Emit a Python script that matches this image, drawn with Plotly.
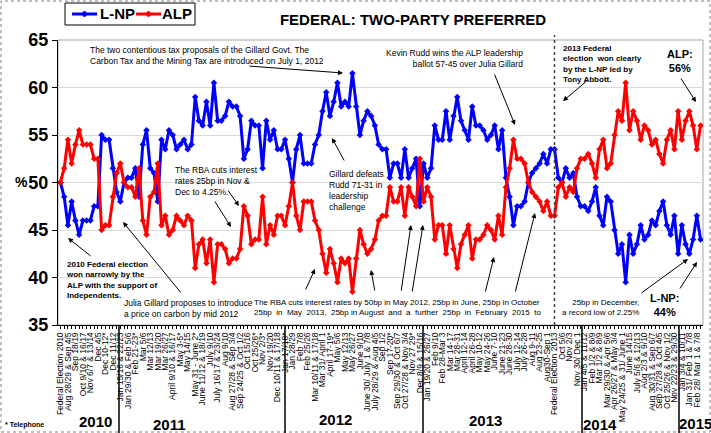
import plotly.graph_objects as go

# Roy Morgan two-party preferred, one value per poll (Aug 2010 - Mar 2015)
lnp = [
    # 2010
    50, 48.5, 45.5, 48, 46, 44.5, 46, 46, 46, 47.5, 47.5, 55, 54.5, 54.5, 51.5, 49,
    # 2011
    48, 50, 50.5, 50.5, 51.5, 48.5, 54, 55.5, 51.5, 51,
    48, 54.5, 53.5, 55.5, 55, 53.5, 54, 54.5, 53.5, 54,
    59, 56.5, 56, 58.5, 56, 60.5, 56.5, 56.5, 57, 58.5,
    58, 58, 57, 52.5, 53.5, 56.5, 56, 56, 51.5, 56.5,
    54.5, 55.5, 53.5, 53.5,
    # 2012
    54.5, 52.5, 50, 53.5, 55, 52, 52, 52, 54, 55,
    57.5, 59.5, 57, 58.5, 60.5, 58, 58.5, 58, 61.5, 58,
    55, 56.5, 57.5, 57, 56, 54, 53.5, 53.5, 50.5, 52,
    52, 50.5, 53.5, 50.5, 51.5, 52.5, 47.5, 52,
    # 2013
    50.5, 51.5, 56, 54.5, 54.5, 57.5, 54.5, 57, 59, 56.5,
    55.5, 54.5, 58, 56, 56, 55.5, 54.5, 55, 56, 53.5,
    55.5, 50.5, 48.5, 45.5, 47.5, 47.5, 48, 50, 51, 51.5,
    52, 53, 52, 53.5, 53.5, 50.5, 50, 51.5, 50.5, 51,
    48.5, 47.5,
    # 2014
    47.5, 47, 48, 49.5, 46.5, 45.5, 48.5, 48, 45, 42.5,
    43.5, 39.5, 44.5, 42.5, 43.5, 45.5, 44, 44.5, 46, 45.5,
    47, 48, 45.5, 44.5, 46.5, 42.5,
    # 2015
    45.5, 43.5, 42.5, 44, 46.5, 44,
]

alp = [
    # 2010
    50, 51.5, 54.5, 52, 54, 55.5, 54, 54, 54, 52.5, 52.5, 45, 45.5, 45.5, 48.5, 51,
    # 2011
    52, 50, 49.5, 49.5, 48.5, 51.5, 46, 44.5, 48.5, 49,
    52, 45.5, 46.5, 44.5, 45, 46.5, 46, 45.5, 46.5, 46,
    41, 43.5, 44, 41.5, 44, 39.5, 43.5, 43.5, 43, 41.5,
    42, 42, 43, 47.5, 46.5, 43.5, 44, 44, 48.5, 43.5,
    45.5, 44.5, 46.5, 46.5,
    # 2012
    45.5, 47.5, 50, 46.5, 45, 48, 48, 48, 46, 45,
    42.5, 40.5, 43, 41.5, 39.5, 42, 41.5, 42, 38.5, 42,
    45, 43.5, 42.5, 43, 44, 46, 46.5, 46.5, 49.5, 48,
    48, 49.5, 46.5, 49.5, 48.5, 47.5, 52.5, 48,
    # 2013
    49.5, 48.5, 44, 45.5, 45.5, 42.5, 45.5, 43, 41, 43.5,
    44.5, 45.5, 42, 44, 44, 44.5, 45.5, 45, 44, 46.5,
    44.5, 49.5, 51.5, 54.5, 52.5, 52.5, 52, 50, 49, 48.5,
    48, 47, 48, 46.5, 46.5, 49.5, 50, 48.5, 49.5, 49,
    51.5, 52.5,
    # 2014
    52.5, 53, 52, 50.5, 53.5, 54.5, 51.5, 52, 55, 57.5,
    56.5, 60.5, 55.5, 57.5, 56.5, 54.5, 56, 55.5, 54, 54.5,
    53, 52, 54.5, 55.5, 53.5, 57.5,
    # 2015
    54.5, 56.5, 57.5, 56, 53.5, 56,
]

# every second poll carries a label on the axis
poll_labels = [
    "Federal Election 2010", "Aug 28/29 & Sep 4/5", "Sep 18/19", "Oct 9/10 & 16/17",
    "Nov 6/7 & 13/14", "Dec 4/5", "Dec 10-12*", "Dec 11/12",
    "Jan 15/16 & 22/23", "Jan 29/30 & Feb 5/6", "Feb 21-23*", "Mar 5/6", "Mar 12/13",
    "Mar 19/20", "Mar 26/27", "April 9/10 & 16/17", "May 3-5*", "May 14/15",
    "May 31 - June 2*", "June 11/12 & 18/19", "July 9/10", "July 16/17 & 23/24",
    "Aug 9/10", "Aug 27/28 & Sep 3/4", "Sep 24/25 & Oct 1/2", "Oct 15/16",
    "Oct 25/26*", "Nov 2/3*", "Nov 19/20", "Dec 10/11 & 17/18",
    "Jan 17/18*", "Jan 28/29", "Feb 7/8", "Feb 25/26", "Mar 10/11 & 17/18",
    "Mar 31/ April 1", "April 17-19*", "May 5/6", "May 12/13", "May 26/27",
    "June 9/10", "June 30/ July 1 & 7/8", "July 28/29 & Aug 4/5", "Sep 1/2",
    "Sep 17-20*", "Sep 29/30 & Oct 6/7", "Oct 27/28 & Nov 3/4", "Nov 27 29*",
    "Dec 8/9 & 15/16",
    "Jan 19/20 & 26/27", "Feb 9/10", "Feb 28-Mar 3", "Mar 14-17", "Mar 28-31",
    "April 12-14", "April 26-28", "May 10-12", "May 24-26", "June 7-10",
    "June 21-23", "June 28-30", "July 12-14", "July 26-28", "Aug 9-11", "Aug 23-25",
    "Aug30-Sep 1", "Federal Election 2013", "Oct 5/6", "Nov 2/3", "Nov 30/ Dec 1",
    "Jan 4/5 & 11/12", "Feb 1/2 & 8/9", "Mar 1/2 & 8/9", "Mar 29/30 & Apr 5/6",
    "Apr 26/27 & May 3/4", "May 24/25 & 31/ June 1", "June 14/15", "July 5/6 & 12/13",
    "Aug 2/3 & 9/10", "Aug 30/31 & Sep 6/7", "Sep 27/28 & Oct 4/5",
    "Oct 25/26 & Nov 1/2", "Nov 22/23 & 29/30",
    "Jan 3/4 & 10/11", "Jan 31/ Feb 1 & 7/8", "Feb 28/ Mar 1 & 7/8",
]

years = ["2010", "2011", "2012", "2013", "2014", "2015"]

x = list(range(len(lnp)))
FONT = "Arial, Liberation Sans, sans-serif"
BLUE = "#0000FF"
RED = "#FF0000"

# plot area in pixels: x 58..703, y 40..325
def fx(p):
    return (p - 58) / 645

def fy(p):
    return (325 - p) / 285

fig = go.Figure()
fig.add_trace(go.Scatter(x=x, y=lnp, name="L-NP", mode="lines+markers",
                         line=dict(color=BLUE, width=3),
                         marker=dict(symbol="diamond", size=5)))
fig.add_trace(go.Scatter(x=x, y=alp, name="ALP", mode="lines+markers",
                         line=dict(color=RED, width=3),
                         marker=dict(symbol="diamond", size=5)))

fig.update_layout(
    width=711, height=433,
    margin=dict(l=58, r=8, t=40, b=108),
    paper_bgcolor="white", plot_bgcolor="white",
    font=dict(family=FONT, color="black"),
    showlegend=False,
    title=dict(text="FEDERAL: TWO-PARTY PREFERRED", x=413 / 711, xanchor="center",
               y=1 - 20 / 433, yanchor="middle",
               font=dict(size=15, weight="bold", color="black")),
    xaxis=dict(range=[-0.65, len(lnp) - 0.35], tickmode="array",
               tickvals=x[::2], ticktext=poll_labels, tickangle=-90,
               tickfont=dict(size=8.5, color="black"), automargin=False,
               showgrid=False, zeroline=False, showline=True, linecolor="black",
               ticks="outside", ticklen=3, tickcolor="black",
               minor=dict(tickmode="linear", tick0=0, dtick=1, ticks="outside",
                          ticklen=3, tickcolor="black")),
    yaxis=dict(range=[35, 65], dtick=5, showgrid=True, gridcolor="#d9d9d9",
               zeroline=False, showline=True, linecolor="black", automargin=False,
               ticks="outside", ticklen=5, tickcolor="black",
               tickfont=dict(size=18, weight="bold", color="black")),
)

# frame round the plot area and dotted border round the picture
fig.add_shape(type="rect", xref="paper", yref="paper", x0=0, x1=1, y0=0, y1=1,
              line=dict(color="#a6a6a6", width=1), layer="below")
fig.add_shape(type="rect", xref="paper", yref="paper", x0=fx(1), x1=fx(710),
              y0=fy(432), y1=fy(1), line=dict(color="#808080", width=1, dash="dot"))

# legend box drawn by hand (plotly's own legend glyphs are too wide)
fig.add_shape(type="rect", xref="paper", yref="paper", x0=fx(65), x1=fx(195),
              y0=fy(25), y1=fy(3), line=dict(color="black", width=1),
              fillcolor="white")
for name, color, x0, tx in [("L-NP", BLUE, 72, 98), ("ALP", RED, 136, 160)]:
    fig.add_shape(type="line", xref="paper", yref="paper", x0=fx(x0), x1=fx(x0 + 25),
                  y0=fy(14), y1=fy(14), line=dict(color=color, width=3))
    cx = x0 + 12.5
    fig.add_shape(type="path", xref="paper", yref="paper",
                  path=f"M {fx(cx - 3)} {fy(14)} L {fx(cx)} {fy(11)} "
                       f"L {fx(cx + 3)} {fy(14)} L {fx(cx)} {fy(17)} Z",
                  line=dict(color=color, width=1), fillcolor=color)
    fig.add_annotation(text=name, x=fx(tx), y=fy(14), xref="paper", yref="paper",
                       xanchor="left", yanchor="middle", showarrow=False,
                       font=dict(size=15, weight="bold"))

# year separators below the axis
for px in [119, 285, 423, 582, 679]:
    fig.add_shape(type="line", xref="paper", yref="paper", x0=fx(px), x1=fx(px),
                  y0=0, y1=fy(433), line=dict(color="black", width=1.5))

# 2013 election marker
fig.add_shape(type="line", xref="paper", yref="paper", x0=fx(554.5), x1=fx(554.5),
              y0=0, y1=fy(35), line=dict(color="#404040", width=1.5, dash="dot"))

year_pos = [(95, 421), (169, 424), (335, 419), (485, 420), (600, 424), (695, 423)]
for yr, (px, py) in zip(years, year_pos):
    fig.add_annotation(text=yr, x=fx(px), y=fy(py), xref="paper", yref="paper",
                       showarrow=False, xanchor="center", yanchor="middle",
                       font=dict(size=15, weight="bold"))


def note(text, px, py, size=8.5, bold=False, xanchor="left", align="left"):
    fig.add_annotation(text=text, x=fx(px), y=fy(py), xref="paper", yref="paper",
                       xanchor=xanchor, yanchor="top", align=align, showarrow=False,
                       font=dict(size=size, weight="bold" if bold else "normal"))


def arrow(x0, y0, x1, y1):
    fig.add_annotation(text="", x=fx(x1), y=fy(y1), xref="paper", yref="paper",
                       ax=x0 - x1, ay=y0 - y1, showarrow=True, arrowhead=2,
                       arrowsize=1, arrowwidth=1, arrowcolor="black")


note("The two contentious tax proposals of the Gillard Govt. The<br>"
     "Carbon Tax and the Mining Tax are introduced on July 1, 2012", 88, 43)
arrow(248, 66, 343, 73)

note("Kevin Rudd wins the ALP leadership<br>ballot 57-45 over Julia Gillard",
     525, 46, xanchor="right", align="right")
arrow(494, 73, 515, 125)

note("2013 Federal<br>election  won clearly<br>by the L-NP led by<br>Tony Abbott.",
     561, 42, size=8, bold=True)
arrow(588, 80, 563, 101)

note("ALP:<br>56%", 680, 46, size=11, bold=True, xanchor="center", align="center")
arrow(680, 77, 696, 102)

note("L-NP:<br>44%", 664, 290, size=11, bold=True, xanchor="center", align="center")
arrow(640, 294, 688, 259)
arrow(679, 290, 697, 262)

note("Gillard defeats<br>Rudd 71-31 in<br>leadership<br>challenge", 327, 167)
arrow(345, 162, 332, 138)

note("The RBA cuts interest<br>rates 25bp in Nov &<br>Dec to 4.25%.", 173, 163)
arrow(214, 200, 231, 227)
arrow(227, 189, 239, 206)

note("2010 Federal election<br>won narrowly by the<br>ALP with the support of<br>Independents.",
     64, 258, size=8, bold=True)
arrow(92, 257, 68, 238)

note("Julia Gillard proposes to introduce<br>a price on carbon by mid 2012", 122, 296)
arrow(182, 294, 123, 222)

note("The RBA cuts interest rates by 50bp in May 2012, 25bp in June, 25bp in October<br>"
     "25bp  in  May  2013,  25bp in August  and  a  further  25bp  in  February  2015  to",
     252, 296, size=8)
note("25bp in December,<br>a record low of 2.25%", 641, 296, size=8,
     xanchor="right", align="right")
arrow(305, 291, 315, 269)
arrow(375, 292, 371, 270)
arrow(401, 292, 411, 225)
arrow(412, 293, 423, 225)
arrow(485, 293, 494, 257)
arrow(515, 293, 535, 213)

fig.add_annotation(text="%", x=fx(13), y=fy(182), xref="paper", yref="paper",
                   showarrow=False, font=dict(size=14, weight="bold"))
fig.add_annotation(text="* Telephone", x=fx(3), y=fy(425), xref="paper", yref="paper",
                   showarrow=False, xanchor="left", yanchor="middle",
                   font=dict(size=7, weight="bold"))

# drop the page margin so the 711x433 figure fills the window exactly
fig.write_html("out.html", config={"displayModeBar": False},
               post_script="document.body.style.margin='0';")
